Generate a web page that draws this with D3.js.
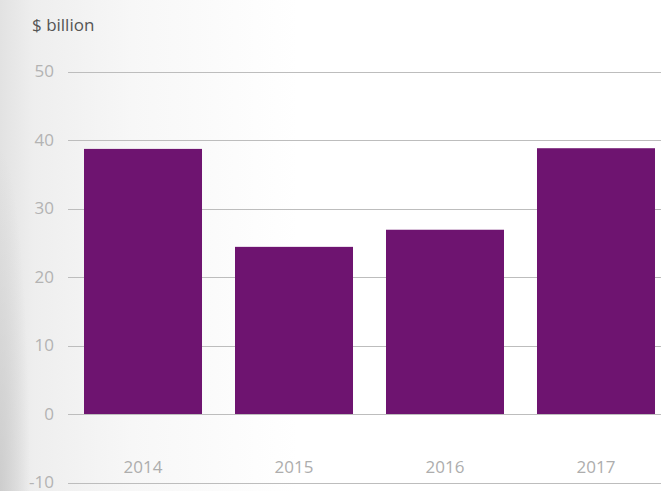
<!DOCTYPE html>
<html><head><meta charset="utf-8">
<script src="https://cdn.jsdelivr.net/npm/d3@7"></script>
<style>body{margin:0;background:#fff}svg{display:block}</style>
</head><body>
<svg id="c" width="661" height="491"></svg>
<script>
const categories = ["2014", "2015", "2016", "2017"];
const values = [38.7, 24.4, 26.9, 38.8];
const yTicks = [-10, 0, 10, 20, 30, 40, 50];
const unitLabel = "$ billion";

const svg = d3.select("#c");
const defs = svg.append("defs");
const g = defs.append("linearGradient").attr("id","bg").attr("x1","0").attr("x2","1").attr("y1","0").attr("y2","0");
g.append("stop").attr("offset","0").attr("stop-color","#e2e2e2");
g.append("stop").attr("offset","0.05").attr("stop-color","#eeeeee");
g.append("stop").attr("offset","0.2").attr("stop-color","#f7f7f7");
g.append("stop").attr("offset","0.45").attr("stop-color","#ffffff");
g.append("stop").attr("offset","1").attr("stop-color","#ffffff");
svg.append("rect").attr("width",661).attr("height",491).attr("fill","url(#bg)");
const rg = defs.append("radialGradient").attr("id","sh").attr("cx","0").attr("cy","1").attr("r","1");
rg.append("stop").attr("offset","0").attr("stop-color","#c8c8c8").attr("stop-opacity",0.8);
rg.append("stop").attr("offset","1").attr("stop-color","#c8c8c8").attr("stop-opacity",0);
svg.append("rect").attr("x",0).attr("y",150).attr("width",30).attr("height",341).attr("fill","url(#sh)");

const y = d3.scaleLinear().domain([-10, 50]).range([482.5, 71.5]);
const x = d3.scaleBand().domain(categories).range([68, 671]).paddingInner(0.2185).paddingOuter(0.106);

const font = "'Open Sans', Lato, sans-serif";
// gridlines
svg.append("g").selectAll("line").data(yTicks).join("line")
  .attr("x1", 68).attr("x2", 661)
  .attr("y1", d => Math.round(y(d)) + 0.5).attr("y2", d => Math.round(y(d)) + 0.5)
  .attr("stroke", "#bdbdbd").attr("stroke-width", 1);
// y labels
svg.append("g").selectAll("text").data(yTicks).join("text")
  .attr("x", 54).attr("y", d => y(d)).attr("dy", "0.35em")
  .attr("text-anchor", "end").attr("font-family", font).attr("font-size", 17)
  .attr("fill", "#b3b3b3").text(d => d);
// bars
svg.append("g").selectAll("rect").data(values).join("rect")
  .attr("x", (d, i) => x(categories[i])).attr("width", x.bandwidth())
  .attr("y", d => y(d)).attr("height", d => y(0) - y(d))
  .attr("fill", "#6e1470");
// x labels
svg.append("g").selectAll("text").data(categories).join("text")
  .attr("x", d => x(d) + x.bandwidth() / 2).attr("y", 467).attr("dy", "0.35em")
  .attr("text-anchor", "middle").attr("font-family", font).attr("font-size", 17)
  .attr("fill", "#adadad").text(d => d);
svg.append("text").attr("x", 32).attr("y", 31).attr("font-family", font)
  .attr("font-size", 17).attr("fill", "#555").text(unitLabel);
</script>
</body></html>
